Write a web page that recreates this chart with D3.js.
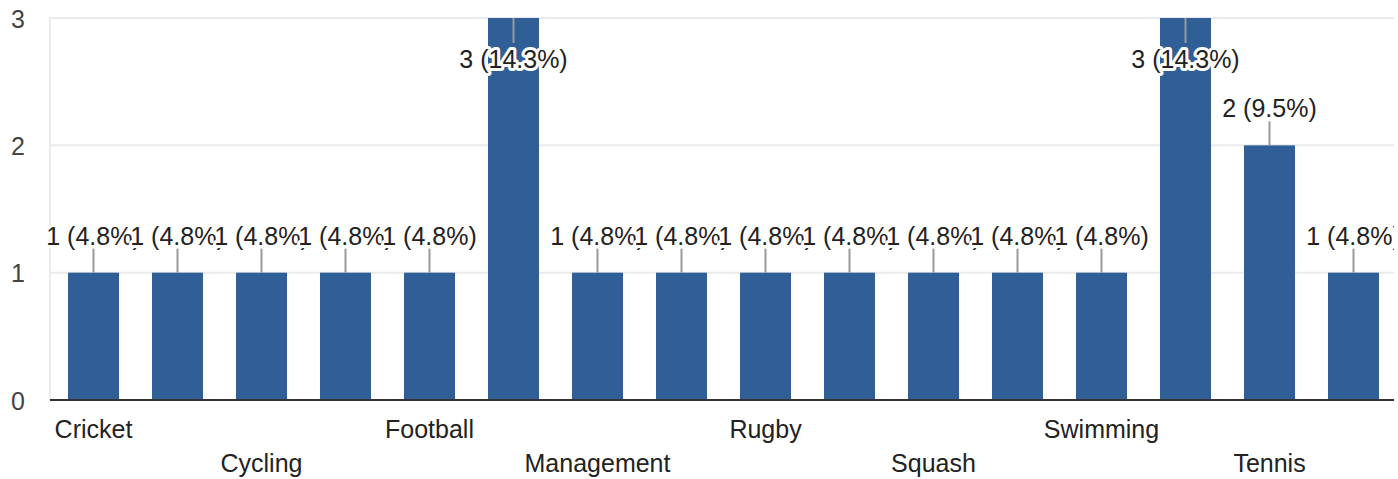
<!DOCTYPE html>
<html>
<head>
<meta charset="utf-8">
<script src="https://cdn.jsdelivr.net/npm/d3@7/dist/d3.min.js"></script>
<style>
  html, body { margin: 0; padding: 0; background: #fff; }
  svg { display: block; }
  text { font-family: "Liberation Sans", Arial, sans-serif; }
</style>
</head>
<body>
<svg id="chart" width="1398" height="479"></svg>
<script>
// Category tick labels (only every other one is shown in the reference)
const categories = ["Cricket", "", "Cycling", "", "Football", "", "Management", "", "Rugby", "", "Squash", "", "Swimming", "", "Tennis", ""];
const values = [1, 1, 1, 1, 1, 3, 1, 1, 1, 1, 1, 1, 1, 3, 2, 1];
const yTicks = [0, 1, 2, 3];

(function () {
const svg = d3.select("#chart");
const W = 1398, H = 479;
const pLeft = 51.5, pRight = 1395.5, pTop = 18, pBottom = 400;
const total = d3.sum(values);

svg.append("defs").append("clipPath").attr("id", "clip")
  .append("rect").attr("x", 0).attr("y", 0).attr("width", 1394).attr("height", H);

const x = d3.scaleBand().domain(d3.range(values.length)).range([pLeft, pRight])
  .paddingInner(0.393).paddingOuter(0.1965);
const y = d3.scaleLinear().domain([0, 3]).range([pBottom, pTop]);

const g = svg.append("g").attr("clip-path", "url(#clip)");

// gridlines
g.append("g").selectAll("line").data(yTicks.filter(d => d > 0)).join("line")
  .attr("x1", 50).attr("x2", 1395)
  .attr("y1", d => y(d)).attr("y2", d => y(d))
  .attr("stroke", "#ebebeb").attr("stroke-width", 2);
// left vertical axis line
g.append("line").attr("x1", 50).attr("x2", 50).attr("y1", pTop - 1).attr("y2", pBottom)
  .attr("stroke", "#ebebeb").attr("stroke-width", 2);

// y axis labels
const yAxis = d3.axisLeft(y).tickValues(yTicks).tickFormat(d3.format("d")).tickSize(0).tickPadding(0);
const ya = svg.append("g").attr("transform", "translate(25,0)").call(yAxis);
ya.select(".domain").remove();
ya.selectAll("text").attr("font-size", 25).attr("fill", "#444")
  .attr("font-family", "Liberation Sans, Arial, sans-serif").attr("dy", "0.36em");

// bars
g.append("g").selectAll("rect").data(values).join("rect")
  .attr("x", (d, i) => x(i)).attr("width", x.bandwidth())
  .attr("y", d => y(d)).attr("height", d => y(0) - y(d))
  .attr("fill", "#2f5f96");

// baseline
g.append("line").attr("x1", 50).attr("x2", 1395).attr("y1", pBottom).attr("y2", pBottom)
  .attr("stroke", "#333").attr("stroke-width", 2);

// data labels with leader lines
const labelBase = d => Math.max(y(d) - 28, 68);
const lab = g.append("g");
values.forEach((v, i) => {
  const cx = x(i) + x.bandwidth() / 2;
  const b = labelBase(v);
  const above = b < y(v);
  lab.append("line")
    .attr("x1", cx).attr("x2", cx)
    .attr("y1", y(v)).attr("y2", above ? b + 4 : b - 25)
    .attr("stroke", "#999").attr("stroke-width", 2);
});
values.forEach((v, i) => {
  const cx = x(i) + x.bandwidth() / 2;
  const t = `${v} (${(v / total * 100).toFixed(1)}%)`;
  lab.append("text")
    .attr("x", cx).attr("y", labelBase(v))
    .attr("text-anchor", "middle").attr("font-size", 25)
    .attr("fill", "#222")
    .attr("stroke", "#fff").attr("stroke-width", 6).attr("stroke-linejoin", "round")
    .attr("paint-order", "stroke")
    .text(t);
});

// x axis tick labels, staggered in two rows
const xAxis = d3.axisBottom(x).tickFormat(i => categories[i]).tickSize(0).tickPadding(0);
const xa = svg.append("g").attr("transform", `translate(0,${pBottom})`).call(xAxis);
xa.select(".domain").remove();
xa.selectAll("text").attr("font-size", 25).attr("fill", "#222")
  .attr("font-family", "Liberation Sans, Arial, sans-serif")
  .attr("dy", null)
  .attr("y", i => ((i / 2) % 2 === 0) ? 38 : 72);
})();
</script>
</body>
</html>
